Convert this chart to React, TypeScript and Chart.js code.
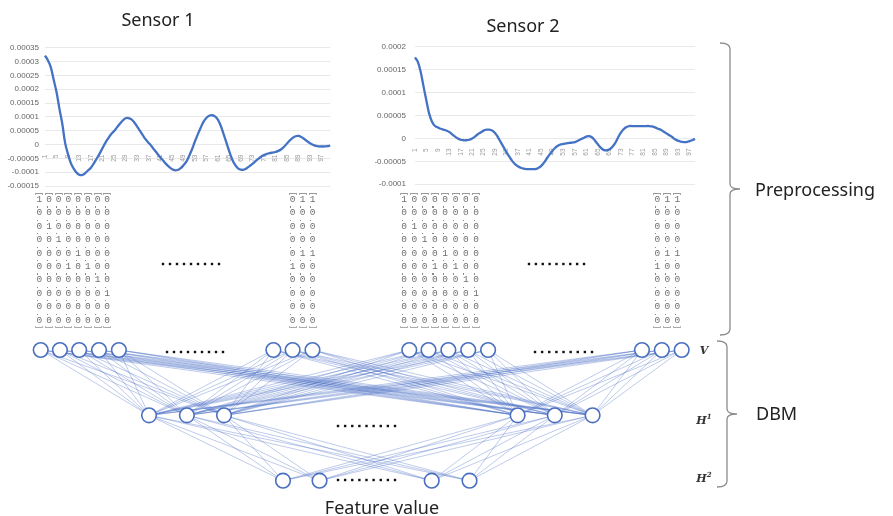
import React, { useEffect, useRef } from "react";
import { Chart, registerables } from "chart.js";

Chart.register(...registerables);

// ---------- DATA ----------
// Sensor signals, in units of 1e-5
const UNIT = 1e-5;
const sensor1Values = [
  32.2, 30.5, 28, 23.5, 19, 13, 7.5, 0.5, -3.5, -6.8,
  -8.8, -10.2, -11, -11, -10.3, -9.3, -8.3, -6.7, -5, -3.2,
  -1.2, 0.7, 2.3, 3.8, 4.9, 6.2, 7.5, 8.7, 9.5, 9.6,
  9.1, 8, 6.5, 4.9, 3.3, 1.8, 0.6, -0.6, -2, -3.3,
  -4.6, -5.8, -7, -8, -8.8, -9.3, -9.2, -8.6, -7.6, -6.3,
  -4.2, -1.8, 1, 3.6, 6, 8.2, 9.6, 10.4, 10.6, 10.2,
  9, 6.8, 3.8, 0.6, -2.6, -5.4, -7.4, -8.6, -9.1, -9.1,
  -8.6, -7.8, -7, -6.1, -5.2, -4.4, -3.8, -3.4, -3.1, -2.9,
  -2.7, -2.3, -1.7, -0.8, 0.4, 1.5, 2.4, 3, 3.1, 2.7,
  2, 1.2, 0.5, -0.1, -0.5, -0.7, -0.7, -0.7, -0.6, -0.4,
];
const sensor2Values = [
  17.7, 16.7, 14.5, 11.3, 8.2, 5.3, 3.6, 2.7, 2.4, 2.1,
  1.9, 1.7, 1.4, 0.9, 0.4, 0, -0.3, -0.4, -0.4, -0.3,
  0, 0.4, 0.9, 1.3, 1.7, 1.9, 1.9, 1.7, 1.2, 0.3,
  -0.8, -1.9, -3.0, -4.0, -4.9, -5.6, -6.1, -6.4, -6.6, -6.7,
  -6.7, -6.7, -6.7, -6.5, -6.1, -5.4, -4.5, -3.6, -2.8, -2.1,
  -1.6, -1.3, -1.2, -1.1, -1.0, -0.9, -0.8, -0.5, -0.2, 0.1,
  0.4, 0.5, 0.2, -0.5, -1.3, -2.0, -2.5, -2.6, -2.4, -1.9,
  -1.1, 0.1, 1.2, 2.0, 2.5, 2.7, 2.7, 2.7, 2.7, 2.7,
  2.7, 2.7, 2.7, 2.6, 2.4, 2.1, 1.9, 1.5, 1.1, 0.7,
  0.3, -0.2, -0.5, -0.7, -0.8, -0.8, -0.6, -0.4, -0.1,
];
const sensor1Range = [-0.00015, 0.00035];
const sensor2Range = [-0.0001, 0.0002];
const yStep = 0.00005;
const xLabelEvery = 4;

// One-hot matrices
const matrixMain = [
  "10000000", "00000000", "01000000", "00100000", "00001000",
  "00010100", "00000010", "00000001", "00000000", "00000000",
];
const matrixTail = [
  "011", "000", "000", "000", "011",
  "100", "000", "000", "000", "000",
];

// Network nodes: position along the layer (0-100), layers V=2, H1=1, H2=0
const vNodes = [0, 3.0, 6.0, 9.1, 12.2, 36.3, 39.3, 42.4, 57.5, 60.5, 63.6, 66.7, 69.8, 93.8, 96.9, 100];
const h1Nodes = [16.9, 22.8, 28.6, 74.4, 80.2, 86.1];
const h2Nodes = [37.8, 43.5, 61.0, 66.9];
const LAYER_V = 2;
const LAYER_H1 = 1;
const LAYER_H2 = 0;

// ---------- COMPONENTS ----------
const LINE_BLUE = "#4472C4";
const SANS = "'Noto Sans', 'DejaVu Sans', sans-serif";

function fmt(v: number) {
  const n = Math.round(v / UNIT) * UNIT;
  if (Math.abs(n) < UNIT / 2) return "0";
  return String(parseFloat(n.toPrecision(6)));
}

function SensorChart(props: {
  values: number[];
  range: number[];
  left: number;
  top: number;
  width: number;
  height: number;
  padding: { top: number; bottom: number; left: number; right: number };
  yWidth: number;
  yPad: number;
}) {
  const ref = useRef<HTMLCanvasElement>(null);
  useEffect(() => {
    const labels = props.values.map((_, i) => String(i + 1));
    const chart = new Chart(ref.current!, {
      type: "line",
      data: {
        labels,
        datasets: [
          {
            data: props.values.map((v) => v * UNIT),
            borderColor: LINE_BLUE,
            borderWidth: 2.3,
            pointRadius: 0,
            tension: 0.4,
            fill: false,
          },
        ],
      },
      options: {
        responsive: false,
        animation: false,
        layout: { padding: props.padding },
        plugins: { legend: { display: false }, tooltip: { enabled: false } },
        scales: {
          x: {
            position: { y: 0 } as any,
            grid: { display: false },
            border: { display: false },
            ticks: {
              autoSkip: false,
              maxRotation: 90,
              minRotation: 90,
              padding: 2,
              color: "#9a9a9a",
              font: { size: 6.5, family: "'Liberation Sans', sans-serif" },
              callback: (_v: any, i: number) => (i % xLabelEvery === 0 ? labels[i] : ""),
            },
          },
          y: {
            min: props.range[0],
            max: props.range[1],
            grid: { color: "#e3e3e3", drawTicks: false, lineWidth: 0.8 },
            border: { display: false },
            ticks: {
              stepSize: yStep,
              padding: props.yPad,
              color: "#666666",
              font: { size: 8, family: "'Liberation Sans', sans-serif" },
              callback: (v: any) => fmt(Number(v)),
            },
            afterFit: (s: any) => {
              s.width = props.yWidth;
            },
          },
        },
      },
    });
    return () => chart.destroy();
  }, []);
  return (
    <canvas
      ref={ref}
      width={props.width}
      height={props.height}
      style={{ position: "absolute", left: props.left, top: props.top, width: props.width, height: props.height, zIndex: 1 }}
    />
  );
}

// Decorations drawn on the network canvas (braces and ellipsis dots)
const decoPlugin = {
  id: "deco",
  afterDraw(chart: any) {
    const ctx = chart.ctx as CanvasRenderingContext2D;
    ctx.save();
    const brace = (lx: number, sx: number, top: number, bottom: number, mid: number, nub: number) => {
      ctx.beginPath();
      ctx.moveTo(lx, top);
      ctx.quadraticCurveTo(sx, top, sx, top + 6);
      ctx.lineTo(sx, mid - 5);
      ctx.quadraticCurveTo(sx, mid, nub, mid);
      ctx.quadraticCurveTo(sx, mid, sx, mid + 5);
      ctx.lineTo(sx, bottom - 6);
      ctx.quadraticCurveTo(sx, bottom, lx, bottom);
      ctx.stroke();
    };
    ctx.strokeStyle = "#8c8c8c";
    ctx.lineWidth = 1.3;
    brace(720, 730, 43, 335, 189, 740);
    brace(717, 727, 341, 487, 414, 737);
    ctx.fillStyle = "#111";
    const dots = (x0: number, x1: number, y: number) => {
      const n = 9;
      for (let i = 0; i < n; i++) {
        const x = x0 + ((x1 - x0) * i) / (n - 1);
        ctx.fillRect(x - 1.2, y - 1.2, 2.4, 2.4);
      }
    };
    dots(163, 219, 264);
    dots(529, 584, 264);
    dots(167, 223, 352);
    dots(535, 592, 352);
    dots(338, 395, 426);
    dots(338, 395, 480);
    ctx.restore();
  },
};

function NetworkChart() {
  const ref = useRef<HTMLCanvasElement>(null);
  useEffect(() => {
    const nodes = [
      ...vNodes.map((x) => ({ x, y: LAYER_V })),
      ...h1Nodes.map((x) => ({ x, y: LAYER_H1 })),
      ...h2Nodes.map((x) => ({ x, y: LAYER_H2 })),
    ];
    const edges: any[] = [];
    vNodes.forEach((v) =>
      h1Nodes.forEach((h) => {
        edges.push({ x: v, y: LAYER_V }, { x: h, y: LAYER_H1 }, { x: h, y: null });
      })
    );
    h1Nodes.forEach((h) =>
      h2Nodes.forEach((k) => {
        edges.push({ x: h, y: LAYER_H1 }, { x: k, y: LAYER_H2 }, { x: k, y: null });
      })
    );
    const chart = new Chart(ref.current!, {
      type: "scatter",
      data: {
        datasets: [
          {
            data: nodes,
            pointRadius: 7.3,
            pointStyle: "circle",
            backgroundColor: "#ffffff",
            borderColor: "#4a6fbf",
            borderWidth: 1.6,
            clip: false as any,
            order: 0,
          },
          {
            data: edges,
            showLine: true,
            spanGaps: false,
            pointRadius: 0,
            borderColor: "rgba(72,110,196,0.45)",
            borderWidth: 0.8,
            clip: false as any,
            order: 1,
          },
        ],
      },
      options: {
        responsive: false,
        animation: false,
        layout: { padding: { left: 40.7, right: 211.3, top: 350, bottom: 35.3 } },
        plugins: { legend: { display: false }, tooltip: { enabled: false } },
        scales: {
          x: { type: "linear", min: 0, max: 100, display: false },
          y: { type: "linear", min: 0, max: 2, display: false },
        },
      },
      plugins: [decoPlugin],
    });
    return () => chart.destroy();
  }, []);
  return (
    <canvas
      ref={ref}
      width={893}
      height={516}
      style={{ position: "absolute", left: 0, top: 0, width: 893, height: 516, zIndex: 0 }}
    />
  );
}

function Matrix(props: { rows: string[]; left: number; colGap: number }) {
  const top = 200;
  const rowGap = 13.4;
  const ncol = props.rows[0].length;
  const items: any[] = [];
  for (let c = 0; c < ncol; c++) {
    const cx = props.left + c * props.colGap;
    items.push(
      <div key={"bt" + c} style={{ position: "absolute", left: cx - 4, top: 193, width: 8, height: 2, borderTop: "1px solid #999", borderLeft: "1px solid #aaa", borderRight: "1px solid #aaa", boxSizing: "border-box" }} />
    );
    items.push(
      <div key={"bb" + c} style={{ position: "absolute", left: cx - 4, top: 326, width: 8, height: 2, borderBottom: "1px solid #aaa", borderLeft: "1px solid #bbb", borderRight: "1px solid #bbb", boxSizing: "border-box" }} />
    );
    props.rows.forEach((row, r) => {
      items.push(
        <span
          key={r + "-" + c}
          style={{
            position: "absolute",
            left: cx,
            top: top + r * rowGap,
            transform: "translate(-50%, -50%)",
            fontFamily: "'Liberation Mono', monospace",
            fontSize: 9.5,
            lineHeight: "10px",
            color: "#707070",
          }}
        >
          {row[c]}
        </span>
      );
      if (r > 0) {
        items.push(
          <div key={"m" + r + "-" + c} style={{ position: "absolute", left: cx - 2.5, top: top + r * rowGap - 7, width: 1.2, height: 1.2, background: "#888" }} />
        );
      }
    });
  }
  return <>{items}</>;
}

function Label(props: { x: number; y: number; text: any; size?: number; anchor?: "left" | "center"; style?: any }) {
  return (
    <div
      style={{
        position: "absolute",
        left: props.x,
        top: props.y,
        transform: props.anchor === "left" ? "translate(0, -50%)" : "translate(-50%, -50%)",
        fontFamily: SANS,
        fontSize: props.size ?? 18,
        color: "#222",
        whiteSpace: "nowrap",
        lineHeight: 1,
        zIndex: 2,
        ...props.style,
      }}
    >
      {props.text}
    </div>
  );
}

export default function App() {
  const mathStyle = { fontFamily: "'DejaVu Serif', serif", fontStyle: "italic", fontWeight: "bold", color: "#333" };
  return (
    <div style={{ position: "absolute", left: 0, top: 0, width: 893, height: 516, background: "#fff", overflow: "hidden" }}>
      <NetworkChart />
      <SensorChart
        values={sensor1Values}
        range={sensor1Range}
        left={0}
        top={37}
        width={340}
        height={160}
        padding={{ top: 10, bottom: 11, left: 5, right: 9 }}
        yWidth={40}
        yPad={6}
      />
      <SensorChart
        values={sensor2Values}
        range={sensor2Range}
        left={370}
        top={33}
        width={340}
        height={165}
        padding={{ top: 10, bottom: 11, left: 5, right: 15 }}
        yWidth={40}
        yPad={9}
      />
      <Matrix rows={matrixMain} left={39.3} colGap={9.7} />
      <Matrix rows={matrixTail} left={292.7} colGap={10} />
      <Matrix rows={matrixMain} left={404} colGap={10.3} />
      <Matrix rows={matrixTail} left={657.3} colGap={10} />
      <Label x={158} y={19} text="Sensor 1" />
      <Label x={523} y={25} text="Sensor 2" />
      <Label x={755} y={189} text="Preprocessing" anchor="left" />
      <Label x={756} y={413} text="DBM" anchor="left" />
      <Label x={382} y={507} text="Feature value" />
      <Label x={704} y={350} size={11} text="V" style={mathStyle} />
      <Label x={704} y={419} size={11} text={<span>H<sup style={{ fontSize: 7 }}>1</sup></span>} style={mathStyle} />
      <Label x={704} y={477} size={11} text={<span>H<sup style={{ fontSize: 7 }}>2</sup></span>} style={mathStyle} />
    </div>
  );
}
